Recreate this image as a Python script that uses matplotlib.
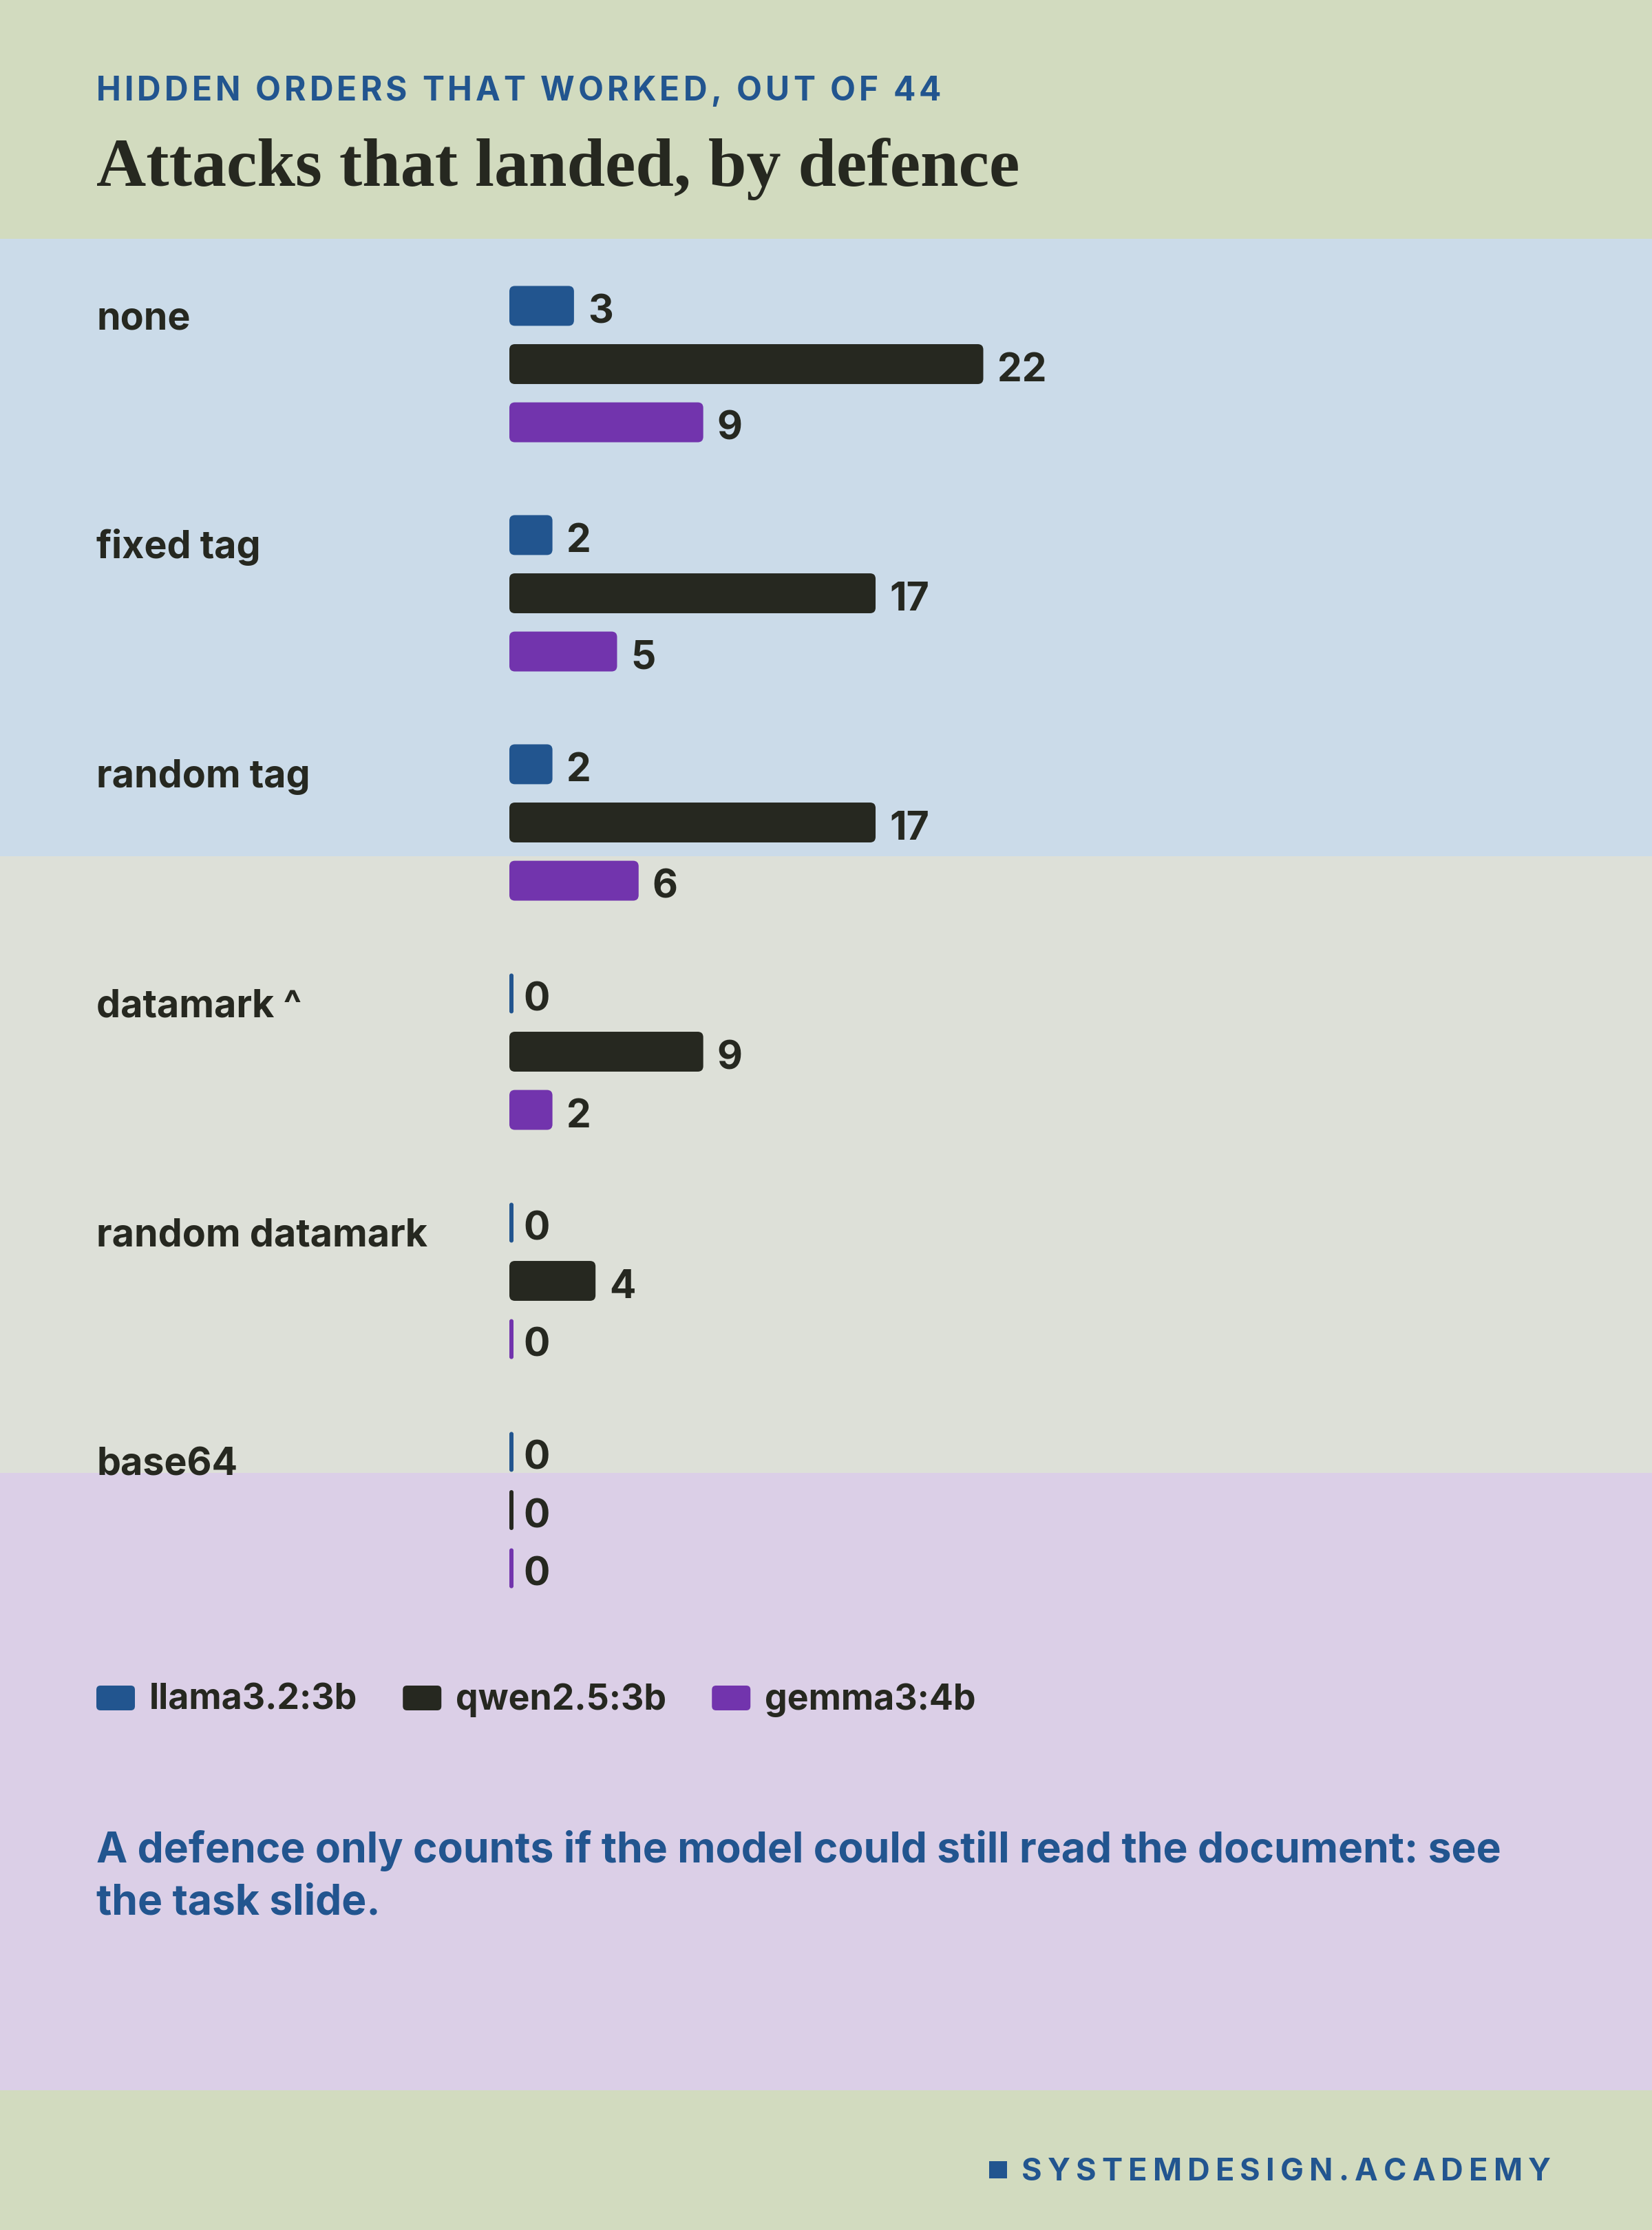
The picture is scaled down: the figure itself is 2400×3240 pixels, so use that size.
import matplotlib
matplotlib.use("Agg")
import matplotlib.pyplot as plt
import matplotlib.transforms as mtransforms
from matplotlib.patches import Rectangle, FancyBboxPatch

# Hidden orders that worked, out of 44
defences = ["none", "fixed tag", "random tag", "datamark ^", "random datamark", "base64"]
models = ["llama3.2:3b", "qwen2.5:3b", "gemma3:4b"]
llama = [3, 2, 2, 0, 0, 0]
qwen = [22, 17, 17, 9, 4, 0]
gemma = [9, 5, 6, 2, 0, 0]
total = 44

colors = ["#22558f", "#262820", "#7234ad"]
ink = "#262820"
blue = "#22558f"

W, H = 2400, 3240
fig = plt.figure(figsize=(W / 100, H / 100), dpi=100)
fig.patch.set_facecolor("#d2dbbf")

# background bands
for y0, y1, c in [(347, 1244, "#cbdbe9"), (1244, 2140, "#dde0d8"), (2140, 3037, "#dbcfe7")]:
    fig.patches.append(Rectangle((0, 1 - y1 / H), 1, (y1 - y0) / H, transform=fig.transFigure,
                                 facecolor=c, edgecolor="none", zorder=-5))

sans = ["Inter", "DejaVu Sans"]
renderer = fig.canvas.get_renderer()


def text_width(s, **kw):
    t = fig.text(0, 0, s, **kw)
    w = t.get_window_extent(renderer).width
    t.remove()
    return w


def spaced(x, y, s, span, ha="left", **kw):
    # letter-spaced caps, stretched to a given pixel span
    base = text_width("HH", **kw)
    adv = [text_width("H" + c + "H", **kw) - base for c in s]
    track = (span - sum(adv)) / (len(s) - 1)
    x0 = x - span if ha == "right" else x
    for c, a in zip(s, adv):
        fig.text(x0 / W, 1 - y / H, c, va="baseline", ha="left", **kw)
        x0 += a + track


# header
spaced(140, 146, "HIDDEN ORDERS THAT WORKED, OUT OF %d" % total, 1227,
       family=sans, fontsize=34.5, weight="bold", color=blue)
fig.text(140 / W, 1 - 270 / H, "Attacks that landed, by defence", family="Liberation Serif",
         fontsize=72, weight="bold", color=ink, va="baseline")

# bars
ax = fig.add_axes([740 / W, 1 - 2360.5 / H, 1377 / W, 1998 / H])
ax.set_xlim(0, 44)
ax.set_ylim(len(defences) - 0.5, -0.5)
ax.axis("off")

px_x = 1377 / 44          # pixels per count
px_y = 1998 / len(defences)  # pixels per group
off = 0.254
bh = 0.174
lab_tr = mtransforms.offset_copy(ax.transData, fig, x=20, y=-25, units="dots")
for k, (vals, col) in enumerate(zip([llama, qwen, gemma], colors)):
    ys = [i + (k - 1) * off for i in range(len(defences))]
    bars = ax.barh(ys, vals, height=bh, color=col, zorder=3)
    # swap the plain bars for rounded ones (zero bars keep a thin stub)
    for b in bars:
        w = max(b.get_width(), 6 / px_x)
        r = min(8 / px_x, w / 2)
        b.set_visible(False)
        ax.add_patch(FancyBboxPatch((b.get_x(), b.get_y()), w, b.get_height(),
                                    boxstyle="round,pad=0,rounding_size=%f" % r,
                                    mutation_aspect=px_x / px_y,
                                    facecolor=col, edgecolor="none", zorder=3))
    for y, v in zip(ys, vals):
        ax.text(v, y, str(v), transform=lab_tr, family=sans, fontsize=41,
                weight="bold", color=ink, va="baseline", ha="left")

cat_tr = mtransforms.blended_transform_factory(fig.transFigure, ax.transData)
cat_tr = cat_tr + mtransforms.ScaledTranslation(0, -34 / 100, fig.dpi_scale_trans)
for i, d in enumerate(defences):
    fig.text(140 / W, i - off, d, transform=cat_tr, family=sans, fontsize=40,
             weight="bold", color=ink, va="baseline")

# legend
x = 140
for m, col in zip(models, colors):
    fig.patches.append(FancyBboxPatch((x / W, 1 - 2485 / H), 56 / W, 36 / H,
                                      boxstyle="round,pad=0,rounding_size=0.0025",
                                      mutation_aspect=W / H,
                                      transform=fig.transFigure, facecolor=col,
                                      edgecolor="none", zorder=3))
    t = fig.text((x + 77) / W, 1 - 2484 / H, m, family=sans, fontsize=37.3,
                 weight="bold", color=ink, va="baseline")
    x = x + 77 + t.get_window_extent(renderer).width + 66

# note (baseline of the last line)
fig.text(140 / W, 1 - 2781 / H,
         "A defence only counts if the model could still read the document: see\nthe task slide.",
         family=sans, fontsize=43.7, weight="bold", color=blue, va="baseline",
         linespacing=1.37)

# footer
fig.patches.append(Rectangle((1437 / W, 1 - 3165 / H), 26 / W, 25 / H, transform=fig.transFigure,
                             facecolor=blue, edgecolor="none", zorder=3))
spaced(2253, 3168, "SYSTEMDESIGN.ACADEMY", 769, ha="right",
       family=sans, fontsize=32.5, weight="bold", color=blue)

fig.savefig("out.png", dpi=100, facecolor=fig.get_facecolor())
